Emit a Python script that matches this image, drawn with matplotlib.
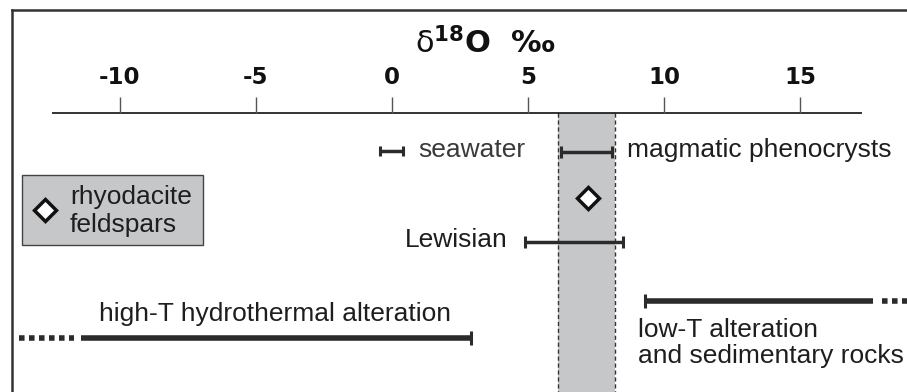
import matplotlib
matplotlib.use("Agg")
import matplotlib.pyplot as plt
from matplotlib.patches import Rectangle

plt.rcParams['font.family'] = ['Liberation Sans', 'DejaVu Sans']
plt.rcParams['mathtext.fontset'] = 'dejavusans'

# d18O ranges (per mil)
tick_vals = [-10, -5, 0, 5, 10, 15]
seawater = (-0.45, 0.4)
magmatic = (6.2, 8.1)
lewisian = (4.9, 8.5)
high_t = (-11.45, 2.9)
high_t_ext = (-13.7, -11.7)
low_t = (9.3, 17.7)
low_t_ext = (18.0, 19.2)
band = (6.1, 8.2)
rhyodacite = 7.2

X0, SCALE = 392, 27.2   # pixel column of 0 per mil, pixels per unit


def px(col):
    return (col - X0) / SCALE


fig = plt.figure(figsize=(9.07, 3.92), dpi=100)
ax = fig.add_axes([0, 0, 1, 1])
# x in per mil, y in rows from the top
ax.set_xlim(px(0), px(907))
ax.set_ylim(392, 0)
ax.axis('off')

dark = '#2b2b2b'
txt = '#1e1e1e'
FS = 19

# outer frame (top and left)
ax.plot([0.013, 1.0], [0.975, 0.975], transform=ax.transAxes, color='#333333', lw=1.8)
ax.plot([0.013, 0.013], [0.0, 0.975], transform=ax.transAxes, color='#333333', lw=1.8)

# shaded band with dashed edges
ax.axvspan(band[0], band[1], ymin=0, ymax=1 - 113 / 392, color='#c6c7c9', lw=0)
ax.vlines(band, 113, 392, colors='#333333', linestyles=(0, (3, 2)), lw=1)

# axis line with ticks pointing up
ax.hlines(113, px(52), px(862), colors='#111111', lw=1.2)
ax.vlines(tick_vals, 97, 113, colors='#555555', lw=1)
for t in tick_vals:
    ax.text(t, 77, str(t), ha='center', va='center', fontsize=16.5, fontweight='bold',
            family='DejaVu Sans', color='#111111')

# axis title
ax.text(px(486), 53, r'$\mathrm{\delta}^{\mathbf{18}}\mathbf{O}\ $ ‰', ha='center', va='baseline',
        fontsize=22, fontweight='bold', family='DejaVu Sans', color='#111111')


def range_bar(lo, hi, y, lw=2.5, cap_lo=True, cap_hi=True, cs=8):
    ax.hlines(y, lo, hi, colors=dark, lw=lw)
    if cap_lo:
        ax.plot(lo, y, marker='|', ms=cs, mew=2.2, color=dark)
    if cap_hi:
        ax.plot(hi, y, marker='|', ms=cs, mew=2.2, color=dark)


range_bar(*seawater, 151, cs=7)
ax.text(px(418), 150, 'seawater', ha='left', va='center', fontsize=FS, color='#3a3a3a')

range_bar(*magmatic, 152)
ax.text(px(627), 150, 'magmatic phenocrysts', ha='left', va='center', fontsize=FS, color=txt)

range_bar(*lewisian, 242)
ax.text(px(508), 240, 'Lewisian', ha='right', va='center', fontsize=FS, color=txt)

range_bar(*high_t, 338, lw=4, cap_lo=False, cs=10)
ax.hlines(338, *high_t_ext, colors=dark, lw=4, linestyles=(0, (1, 0.8)))
ax.text(px(275), 314, 'high-T hydrothermal alteration', ha='center', va='center',
        fontsize=FS, color=txt)

range_bar(*low_t, 301, lw=4, cap_hi=False, cs=10)
ax.hlines(301, *low_t_ext, colors=dark, lw=4, linestyles=(0, (1, 0.8)))
ax.text(px(638), 343, 'low-T alteration\nand sedimentary rocks', ha='left', va='center',
        fontsize=FS, color=txt, linespacing=1.15)

ax.plot(rhyodacite, 198, marker='D', ms=11, mfc='white', mec='#111111', mew=2.5)

# legend box
ax.add_patch(Rectangle((22 / 907, 1 - 245 / 392), (203 - 22) / 907, 70 / 392,
                       transform=ax.transAxes, fc='#c6c7c9', ec='#444444', lw=1))
ax.plot(45 / 907, 1 - 210 / 392, transform=ax.transAxes, marker='D', ms=11,
        mfc='white', mec='#111111', mew=2.5)
ax.text(70 / 907, 1 - 211 / 392, 'rhyodacite\nfeldspars', transform=ax.transAxes,
        ha='left', va='center', fontsize=FS, color=txt, linespacing=1.2)

fig.savefig('out.png', dpi=100)
